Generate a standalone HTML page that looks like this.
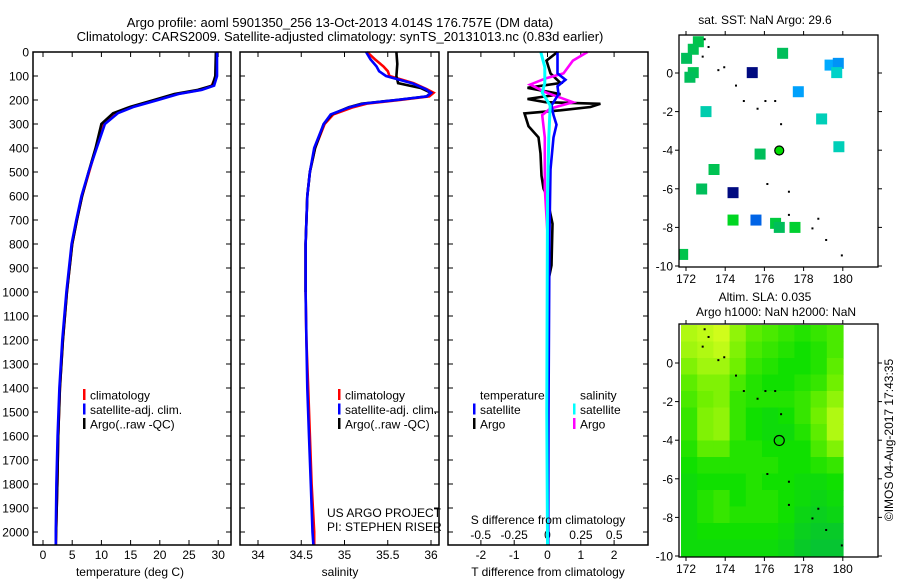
<!DOCTYPE html>
<html><head><meta charset="utf-8"><style>
body{margin:0;background:#fff;}
svg{display:block;font-family:"Liberation Sans",sans-serif;}
text{fill:#000;}
</style></head><body>
<svg id="fig" width="900" height="580" viewBox="0 0 900 580" xmlns="http://www.w3.org/2000/svg">
<rect width="900" height="580" fill="#fff"/>
<text x="340" y="27" font-size="13" text-anchor="middle">Argo profile: aoml 5901350_256 13-Oct-2013 4.014S 176.757E (DM data)</text>
<text x="340" y="41" font-size="13" text-anchor="middle">Climatology: CARS2009. Satellite-adjusted climatology: synTS_20131013.nc (0.83d earlier)</text>
<g id="g1"></g>
<g id="g2"></g>
<g id="g3"></g>
<g id="g4"></g>
<g id="g5"></g>
<text transform="translate(893,440) rotate(-90)" font-size="12" text-anchor="middle">©IMOS 04-Aug-2017 17:43:35</text>
</svg>
<script>
// ---- data ----
const depthTicks = [0,100,200,300,400,500,600,700,800,900,1000,1100,1200,1300,1400,1500,1600,1700,1800,1900,2000];
const tempTicks = [0,5,10,15,20,25,30];
const salTicks = [34,34.5,35,35.5,36];
const salTickLabels = ["34","34.5","35","35.5","36"];
const tdiffTicks = [-2,-1,0,1,2];
const sdiffTicks = [-0.5,-0.25,0,0.25,0.5];
const sdiffTickLabels = ["-0.5","-0.25","0","0.25","0.5"];

const tempDepth = [0,100,140,158,175,200,228,255,300,400,500,600,700,800,1000,1200,1400,1600,1800,2000,2054];
const tempClim  = [29.7,29.6,28.9,27,23,19.5,15.4,12.6,10.4,9.1,7.9,6.7,5.8,5.0,4.1,3.4,2.9,2.6,2.45,2.25,2.2];
const tempSat   = [29.8,29.8,29.3,27.2,23.2,19.7,15.6,12.8,10.6,9.2,7.8,6.6,5.7,4.9,4.0,3.3,2.8,2.5,2.3,2.2,2.2];
const tempArgo  = [29.6,29.5,29.0,26.5,22.5,19.0,15.0,12.0,10.0,9.0,7.8,6.7,5.8,5.0,4.1,3.4,2.9,2.6,2.45,2.25,2.2];

const salDepth = [0,30,60,80,100,130,155,170,185,200,215,230,260,300,400,500,600,800,1000,1200,1400,1600,1800,2000,2054];
const salClim  = [35.26,35.35,35.45,35.5,35.52,35.8,35.95,36.03,35.98,35.64,35.26,35.1,34.87,34.77,34.66,34.6,34.57,34.55,34.55,34.56,34.58,34.6,34.62,34.65,34.65];
const salSat   = [35.25,35.3,35.37,35.4,35.48,35.78,35.94,36.0,35.95,35.6,35.22,35.06,34.84,34.76,34.65,34.6,34.57,34.55,34.55,34.56,34.57,34.59,34.61,34.63,34.64];
const salArgoDepth = [0,50,100,130,140,150,170,185,200,215,230,260,300,400,500,600,800,1000];
const salArgo  = [35.6,35.61,35.6,35.62,35.75,35.88,36.0,35.95,35.6,35.2,35.05,34.85,34.76,34.66,34.6,34.57,34.55,34.55];

const tdArgoDepth = [0,36,89,129,149,176,196,209,216,229,243,256,309,356,423,516,569,596,716,889,950];
const tdArgo = [0.3,-0.03,0.09,0.39,-0.6,0.39,-0.6,-0.06,1.59,1.29,0.39,-0.69,-0.57,-0.27,-0.21,-0.18,-0.12,-0.03,0.15,0.12,0.03];
const tdSatDepth = [0,36,89,116,143,176,223,263,303,356,489,756,1500,2054];
const tdSat = [0.3,0.3,0.3,0.54,0.3,0.33,0.12,0.18,0.27,0.18,0.09,0.06,0.03,0.02];
const sdArgoDepth = [0,36,89,109,136,169,209,236,263,356,489,569,756,1000];
const sdArgo = [0.3,0.19,0.12,-0.01,-0.13,-0.01,0.19,0.02,-0.04,-0.02,-0.02,-0.02,0,0];
const sdSatDepth = [0,63,129,169,223,356,600,1500,2054];
const sdSat = [-0.05,-0.02,-0.02,-0.04,0.02,0.01,0,-0.005,0];

const lonTicks = [172,174,176,178,180];
const latTicks = [0,-2,-4,-6,-8,-10];
const sstLon = [172.63,172.37,172.03,172.37,172.2,176.93,175.38,179.35,179.77,179.69,177.73,173.02,178.92,179.8,175.78,173.43,172.8,174.4,174.4,175.57,176.57,176.76,177.56,171.83];
const sstLat = [1.62,1.23,0.76,0.02,-0.22,1.02,0.02,0.41,0.5,0.02,-0.97,-2.0,-2.38,-3.82,-4.2,-5.0,-6.01,-6.2,-7.62,-7.62,-7.79,-8.0,-8.0,-9.4];
const sstVal = [0.8,0.78,0.75,0.78,0.75,0.75,0.0,0.35,0.3,0.55,0.33,0.6,0.58,0.58,0.75,0.78,0.75,0.0,0.95,0.2,0.85,0.75,0.9,0.8];
const argoLon = 176.757, argoLat = -4.014;
const islandLon = [173.1,173.6,173.9,174.5,174.9,175.6,176.0,176.5,176.8,176.1,177.2,177.2,178.4,178.7,179.1,179.9,172.9,172.8];
const islandLat = [1.4,0.2,0.35,-0.6,-1.4,-1.8,-1.4,-1.4,-2.6,-5.7,-6.1,-7.3,-8.0,-7.5,-8.6,-9.4,1.8,0.9];
const slaGrid = [
[.85,.9,.95,.75,.6,.55,.5,.45,.5,.55],
[.8,.85,.9,.7,.55,.5,.45,.4,.45,.55],
[.7,.8,.8,.65,.5,.45,.4,.4,.45,.6],
[.6,.7,.7,.55,.45,.4,.4,.45,.5,.65],
[.55,.65,.7,.5,.45,.45,.45,.5,.6,.75],
[.5,.7,.75,.5,.4,.35,.4,.5,.65,.85],
[.5,.7,.75,.5,.4,.35,.35,.45,.6,.85],
[.45,.6,.6,.45,.45,.4,.4,.4,.55,.7],
[.4,.45,.45,.45,.45,.45,.4,.4,.45,.5],
[.35,.4,.4,.4,.45,.4,.4,.35,.35,.4],
[.35,.45,.5,.4,.45,.45,.4,.35,.3,.35],
[.35,.45,.5,.45,.45,.45,.4,.3,.25,.3],
[.35,.4,.4,.4,.4,.4,.35,.25,.2,.2],
[.35,.35,.35,.35,.35,.35,.3,.2,.15,.15]];

// ---- helpers ----
const NS="http://www.w3.org/2000/svg";
const FS=12;
function mk(parent,tag,attrs,txt){const e=document.createElementNS(NS,tag);for(const k in attrs)e.setAttribute(k,attrs[k]);if(txt!==undefined)e.textContent=txt;parent.appendChild(e);return e;}
const TOP=52, BOT=545;
const yD = d => TOP + d*0.24;

function frame(g,x0,x1,y0,y1){const r=mk(g,'rect',{x:x0,y:y0,width:x1-x0,height:y1-y0,fill:'none',stroke:'#000','stroke-width':1.5});

}
function line(g,xs,ys,fx,color,name,w){
  const pts=xs.map((v,i)=>fx(v).toFixed(1)+','+yD(ys[i]).toFixed(1)).join(' ');
  const p=mk(g,'polyline',{points:pts,fill:'none',stroke:color,'stroke-width':w||2.6,'stroke-linejoin':'miter'});
  
  
}
function depthAxis(g,x0,x1,labels){
  depthTicks.forEach(d=>{
    const y=yD(d);
    mk(g,'line',{x1:x0,y1:y,x2:x0+5,y2:y,stroke:'#000'});
    mk(g,'line',{x1:x1-5,y1:y,x2:x1,y2:y,stroke:'#000'});
    if(labels){const t=mk(g,'text',{x:x0-4,y:y+4.5,'font-size':FS,'text-anchor':'end'},String(d));
      
      }
  });
}
function legend(g,x,y,items){
  items.forEach((it,i)=>{
    const yy=y+i*14.5;
    if(it[1]) mk(g,'rect',{x:x,y:yy-6,width:2.5,height:11,fill:it[1]});
    const t=mk(g,'text',{x:x+7,y:yy+4.5,'font-size':FS},it[0]);
    
    
  });
}

// ---- panel 1: temperature ----
(function(){
  const g=document.getElementById('g1'); const x0=33,x1=231;
  const fx=t=>43+t*5.84;
  depthAxis(g,x0,x1,true);
  tempTicks.forEach((t,i)=>{const x=fx(t);
    mk(g,'line',{x1:x,y1:TOP,x2:x,y2:TOP+5,stroke:'#000'});mk(g,'line',{x1:x,y1:BOT-5,x2:x,y2:BOT,stroke:'#000'});
    const l=mk(g,'text',{x:x,y:BOT+14,'font-size':FS,'text-anchor':'middle'},String(t));
    
    });
  line(g,tempClim,tempDepth,fx,'#ff0000','temp-climatology-line');
  line(g,tempArgo,tempDepth,fx,'#000000','temp-argo-line');
  line(g,tempSat,tempDepth,fx,'#0000ff','temp-satellite-line');
  frame(g,x0,x1,TOP,BOT);
  const xl=mk(g,'text',{x:130,y:576,'font-size':FS,'text-anchor':'middle'},'temperature (deg C)');
  
  
  legend(g,83,395,[['climatology','#f00'],['satellite-adj. clim.','#00f'],['Argo(..raw -QC)','#000']]);
})();

// ---- panel 2: salinity ----
(function(){
  const g=document.getElementById('g2'); const x0=240,x1=439;
  const fx=s=>258+(s-34)*86.5;
  depthAxis(g,x0,x1,false);
  salTicks.forEach((s,i)=>{const x=fx(s);
    mk(g,'line',{x1:x,y1:TOP,x2:x,y2:TOP+5,stroke:'#000'});mk(g,'line',{x1:x,y1:BOT-5,x2:x,y2:BOT,stroke:'#000'});
    const l=mk(g,'text',{x:x,y:BOT+14,'font-size':FS,'text-anchor':'middle'},salTickLabels[i]);
    
    });
  line(g,salClim,salDepth,fx,'#ff0000','sal-climatology-line');
  line(g,salArgo,salArgoDepth,fx,'#000000','sal-argo-line');
  line(g,salSat,salDepth,fx,'#0000ff','sal-satellite-line');
  frame(g,x0,x1,TOP,BOT);
  const xl=mk(g,'text',{x:340,y:576,'font-size':FS,'text-anchor':'middle'},'salinity');
  
  
  legend(g,338,395,[['climatology','#f00'],['satellite-adj. clim.','#00f'],['Argo(..raw -QC)','#000']]);
  const a=mk(g,'text',{x:327,y:517,'font-size':FS},'US ARGO PROJECT');
  
  
  const b=mk(g,'text',{x:327,y:531,'font-size':FS},'PI: STEPHEN RISER');
  
  
})();

// ---- panel 3: differences ----
(function(){
  const g=document.getElementById('g3'); const x0=448,x1=648;
  const fT=t=>547.5+t*33.3, fS=s=>547.5+s*133.5;
  depthAxis(g,x0,x1,false);
  tdiffTicks.forEach(t=>{const x=fT(t);
    mk(g,'line',{x1:x,y1:TOP,x2:x,y2:TOP+5,stroke:'#000'});mk(g,'line',{x1:x,y1:BOT-5,x2:x,y2:BOT,stroke:'#000'});
    const l=mk(g,'text',{x:x,y:BOT+14,'font-size':FS,'text-anchor':'middle'},String(t));
    
    });
  sdiffTicks.forEach((s,i)=>{const x=fS(s);
    const l=mk(g,'text',{x:x,y:539,'font-size':FS,'text-anchor':'middle'},sdiffTickLabels[i]);
    
    });
  line(g,tdArgo,tdArgoDepth,fT,'#000000','tdiff-argo-line');
  line(g,sdArgo,sdArgoDepth,fS,'#ff00ff','sdiff-argo-line');
  line(g,tdSat,tdSatDepth,fT,'#0000ff','tdiff-satellite-line');
  line(g,sdSat,sdSatDepth,fS,'#00ffff','sdiff-satellite-line',3);
  frame(g,x0,x1,TOP,BOT);
  const s=mk(g,'text',{x:548,y:524,'font-size':FS,'text-anchor':'middle'},'S difference from climatology');
  
  
  const t=mk(g,'text',{x:548,y:576,'font-size':FS,'text-anchor':'middle'},'T difference from climatology');
  
  
  legend(g,473,395,[['temperature',null],['satellite','#00f'],['Argo','#000']]);
  legend(g,573,395,[['salinity',null],['satellite','#0ff'],['Argo','#f0f']]);
})();

// ---- maps ----
const fLon=l=>686+(l-172)*19.6;
function mapAxes(g,top,bot,lat0y){
  const fLat=a=>lat0y-a*19.3;
  lonTicks.forEach(l=>{const x=fLon(l);
    mk(g,'line',{x1:x,y1:top-4,x2:x,y2:top,stroke:'#000'});mk(g,'line',{x1:x,y1:bot,x2:x,y2:bot+4,stroke:'#000'});
    const t=mk(g,'text',{x:x,y:bot+16,'font-size':FS,'text-anchor':'middle'},String(l));
    
    });
  latTicks.forEach(a=>{const y=fLat(a);
    mk(g,'line',{x1:675,y1:y,x2:679,y2:y,stroke:'#000'});mk(g,'line',{x1:878,y1:y,x2:882,y2:y,stroke:'#000'});
    const t=mk(g,'text',{x:673,y:y+4.5,'font-size':FS,'text-anchor':'end'},String(a));
    
    });
  return fLat;
}
function islands(g,fLat){
  islandLon.forEach((l,i)=>{const r=mk(g,'rect',{x:fLon(l),y:fLat(islandLat[i]),width:2,height:2,fill:'#000'});
    
    });
}
function sstColor(v){
  const stops=[[0,[0,10,128]],[0.2,[0,100,230]],[0.35,[0,170,255]],[0.55,[0,210,200]],[0.75,[0,190,90]],[1,[0,220,20]]];
  for(let i=1;i<stops.length;i++){if(v<=stops[i][0]){const a=stops[i-1],b=stops[i],f=(v-a[0])/(b[0]-a[0]);
    return 'rgb('+a[1].map((c,j)=>Math.round(c+(b[1][j]-c)*f)).join(',')+')';}}
  return 'rgb(0,220,20)';
}
function slaColor(v){
  const stops=[[0,[0,180,80]],[0.4,[16,224,0]],[0.65,[112,240,0]],[1,[224,255,32]]];
  for(let i=1;i<stops.length;i++){if(v<=stops[i][0]){const a=stops[i-1],b=stops[i],f=(v-a[0])/(b[0]-a[0]);
    return 'rgb('+a[1].map((c,j)=>Math.round(c+(b[1][j]-c)*f)).join(',')+')';}}
  return 'rgb(224,255,32)';
}
(function(){
  const g=document.getElementById('g4');
  const tt=mk(g,'text',{x:765,y:24,'font-size':FS,'text-anchor':'middle'},'sat. SST: NaN Argo: 29.6');
  
  
  mk(g,'clipPath',{id:'c4'});
  mk(document.getElementById('c4'),'rect',{x:679,y:35,width:199,height:232});
  const fLat=mapAxes(g,35,267,73);
  const pts=mk(g,'g',{'clip-path':'url(#c4)'});
  sstLon.forEach((l,i)=>{const s=mk(pts,'rect',{x:fLon(l)-5.5,y:fLat(sstLat[i])-5.5,width:11,height:11,fill:sstColor(sstVal[i])});
    
    });
  islands(g,fLat);
  const c=mk(g,'circle',{cx:fLon(argoLon),cy:fLat(argoLat),r:4.5,fill:'#00dd00',stroke:'#000','stroke-width':1.2});
  
  
  mk(g,'rect',{x:679,y:35,width:199,height:232,fill:'none',stroke:'#000','stroke-width':1.3});
})();
(function(){
  const g=document.getElementById('g5');
  const t1=mk(g,'text',{x:765,y:301,'font-size':FS,'text-anchor':'middle'},'Altim. SLA: 0.035');
  
  
  const t2=mk(g,'text',{x:776,y:316,'font-size':FS,'text-anchor':'middle'},'Argo h1000: NaN h2000: NaN');
  
  
  const x0=681,x1=843,y0=325,y1=556;
  const cw=(x1-x0)/10, ch=(y1-y0)/14;
  slaGrid.forEach((row,r)=>row.forEach((v,c)=>{
    const cell=mk(g,'rect',{x:x0+c*cw,y:y0+r*ch,width:cw+0.6,height:ch+0.6,fill:slaColor(v)});
    
    
  }));
  const fLat=mapAxes(g,324,557,363);
  islands(g,fLat);
  const c=mk(g,'circle',{cx:fLon(argoLon),cy:fLat(argoLat),r:5,fill:'none',stroke:'#000','stroke-width':1.2});
  
  
  mk(g,'rect',{x:679,y:324,width:199,height:233,fill:'none',stroke:'#000','stroke-width':1.3});
})();
</script>
</body></html>
